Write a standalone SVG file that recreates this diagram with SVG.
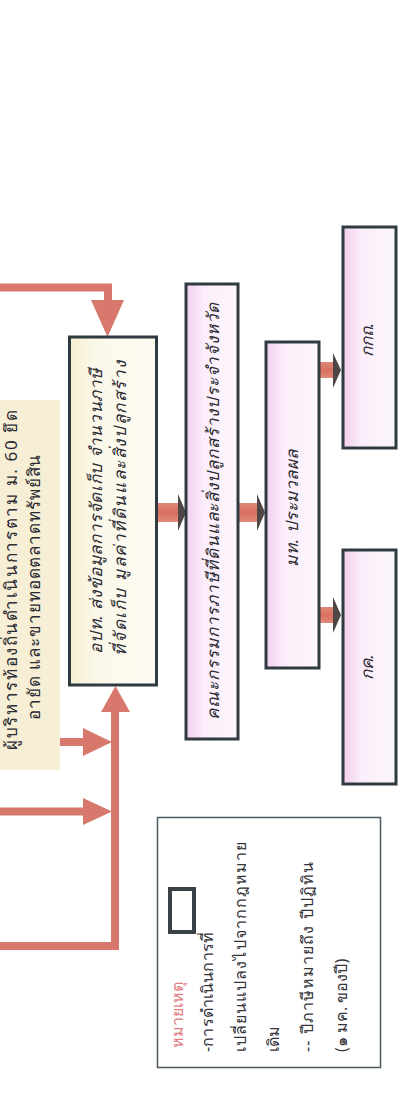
<svg xmlns="http://www.w3.org/2000/svg" width="408" height="1094" viewBox="0 0 408 1094">
<defs>
<linearGradient id="pink" x1="0" y1="0" x2="1" y2="0">
<stop offset="0" stop-color="#f2cdee"/>
<stop offset="0.35" stop-color="#fbeefa"/>
<stop offset="1" stop-color="#fdf6fc"/>
</linearGradient>
<linearGradient id="cream" x1="0" y1="0" x2="1" y2="0">
<stop offset="0" stop-color="#f6efcf"/>
<stop offset="0.3" stop-color="#fbf8ea"/>
<stop offset="1" stop-color="#fdfbf2"/>
</linearGradient>
<linearGradient id="shaft" x1="0" y1="0" x2="0" y2="1">
<stop offset="0" stop-color="#e08a7c"/>
<stop offset="0.5" stop-color="#d9705f"/>
<stop offset="1" stop-color="#e08a7c"/>
</linearGradient>
<style>
.box{stroke:#2f3b40;stroke-width:3}
.pk{fill:url(#pink)}
.cr{fill:url(#cream)}
.t{font-family:"Noto Sans","DejaVu Sans",sans-serif;font-size:17px;fill:#2b2b33}
.it{font-style:italic}
.lg{font-family:"Noto Sans","DejaVu Sans",sans-serif;font-size:16px;fill:#333338}
.conn{fill:none;stroke:#d8786c;stroke-width:8}
.head{fill:#d8786c}
.sh{fill:url(#shaft)}
.sh2{fill:#4f4646}
</style>
</defs>
<rect width="408" height="1094" fill="#ffffff"/>

<g id="connectors">
<path class="conn" d="M0,287.5 H108 V302"/>
<polygon class="head" points="91,300 124,300 107.5,337"/>
<path class="conn" d="M0,946 H115 V710"/>
<polygon class="head" points="101,712 130,712 115.5,686"/>
<path class="conn" d="M60,742 H86"/>
<polygon class="head" points="83,728 83,756 112,742"/>
<path class="conn" d="M0,811.5 H86"/>
<polygon class="head" points="83,798 83,825 112,811.5"/>
<rect class="sh" x="158" y="503" width="21" height="19"/>
<polygon class="sh2" points="178,494 186,512.5 178,531"/>
<rect class="sh" x="239" y="503" width="19" height="19"/>
<polygon class="sh2" points="257,494 265,512.5 257,531"/>
<rect class="sh" x="320" y="362" width="15" height="16"/>
<polygon class="sh2" points="333,353 341,370 333,388"/>
<rect class="sh" x="320" y="607" width="15" height="16"/>
<polygon class="sh2" points="333,597 341,615 333,633"/>
</g>

<g id="seize">
<rect x="-5" y="400" width="65" height="370" fill="#f6efd5"/>
<text class="t" transform="translate(17,580) rotate(-90)" text-anchor="middle" font-size="14" textLength="340">ผู้บริหารท้องถิ่นดำเนินการตาม ม. 60 ยึด</text>
<text class="t" transform="translate(40,587) rotate(-90)" text-anchor="middle" font-size="15" textLength="265">อายัด และขายทอดตลาดทรัพย์สิน</text>
</g>

<g id="opt">
<rect class="box cr" x="69.5" y="337" width="87" height="348"/>
<text class="t it" transform="translate(102,511) rotate(-90)" text-anchor="middle" textLength="285">อปท. ส่งข้อมูลการจัดเก็บ จำนวนภาษี</text>
<text class="t it" transform="translate(126,508) rotate(-90)" text-anchor="middle" textLength="295">ที่จัดเก็บ มูลค่าที่ดินและสิ่งปลูกสร้าง</text>
</g>

<g id="committee">
<rect class="box pk" x="186" y="284" width="52" height="455"/>
<text class="t it" transform="translate(219,511) rotate(-90)" text-anchor="middle" textLength="417">คณะกรรมการภาษีที่ดินและสิ่งปลูกสร้างประจำจังหวัด</text>
</g>

<g id="moi">
<rect class="box pk" x="266" y="342" width="53" height="326"/>
<text class="t it" transform="translate(298,508) rotate(-90)" text-anchor="middle" textLength="117">มท. ประมวลผล</text>
</g>

<g id="kkth">
<rect class="box pk" x="343" y="227" width="53" height="221"/>
<text class="t it" transform="translate(373,340) rotate(-90)" text-anchor="middle">กกถ.</text>
</g>

<g id="kk">
<rect class="box pk" x="343" y="550" width="53" height="234"/>
<text class="t it" transform="translate(373,667) rotate(-90)" text-anchor="middle">กค.</text>
</g>

<g id="legend">
<rect x="157.5" y="817.5" width="223" height="250" fill="#ffffff" stroke="#4d5a60" stroke-width="1.5"/>
<rect x="170" y="889" width="24" height="43" fill="#ffffff" stroke="#3a4246" stroke-width="4"/>
<text class="lg" transform="translate(183,1048) rotate(-90)" font-size="13" style="fill:#e07a80">หมายเหตุ</text>
<text class="lg" transform="translate(213,1052) rotate(-90)" textLength="120">-การดำเนินการที่</text>
<text class="lg" transform="translate(246,1052) rotate(-90)" textLength="210">เปลี่ยนแปลงไปจากกฎหมาย</text>
<text class="lg" transform="translate(279,1052) rotate(-90)">เดิม</text>
<text class="lg" transform="translate(313,1052) rotate(-90)" textLength="190">-- ปีภาษีหมายถึง ปีปฏิทิน</text>
<text class="lg" transform="translate(347,1052) rotate(-90)">(๑ มค. ของปี)</text>
</g>
</svg>
